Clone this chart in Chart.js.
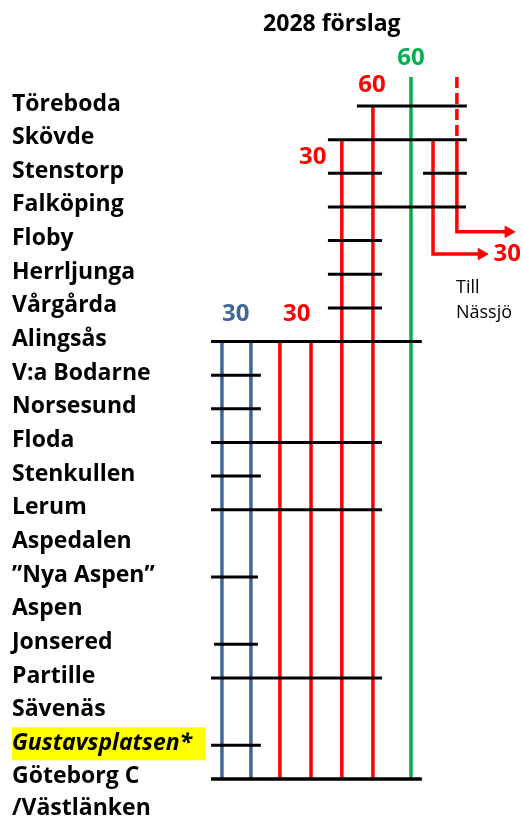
<!DOCTYPE html>
<html><head><meta charset="utf-8">
<script src="https://cdn.jsdelivr.net/npm/chart.js@4"></script>
<style>html,body{margin:0;padding:0;background:#fff}canvas{display:block}</style>
</head><body>
<canvas id="c" width="523" height="820"></canvas>
<script>
// ---------- DATA ----------
const stations = ['Töreboda','Skövde','Stenstorp','Falköping','Floby','Herrljunga','Vårgårda','Alingsås',
  'V:a Bodarne','Norsesund','Floda','Stenkullen','Lerum','Aspedalen','”Nya Aspen”','Aspen','Jonsered',
  'Partille','Sävenäs','Gustavsplatsen*','Göteborg C'];
const lastStationSecondLine = '/Västlänken';
const highlightedStation = 'Gustavsplatsen*';
const title = '2028 förslag';

// stopping bars: [station index, from track, to track]
const stationBars = [
  [0,4.47,8.11],[1,3.51,8.11],[2,3.51,5.30],[2,6.66,8.11],[3,3.51,8.08],[4,3.51,5.30],[5,3.51,5.30],
  [6,3.51,5.30],[7,-0.36,6.62],[8,-0.36,1.29],[9,-0.36,1.29],[10,-0.36,5.30],[11,-0.36,1.29],
  [12,-0.36,5.30],[14,-0.36,1.19],[16,-0.26,1.19],[17,-0.36,5.30],[19,-0.36,1.29],[20,-0.36,6.62]
];

// train services (vertical lines): track position, first and last station index
const lineService = ['blue','blue','red','red','red','red','green'];
const lineX       = [0, 0.96, 1.92, 2.95, 3.97, 5.0, 6.26];
const lineFrom    = [7, 7, 7, 7, 1, 0, -0.86];
const lineTo      = [20, 20, 20, 20, 20, 20, 20];

// branches towards Nässjö
const branchX    = [6.99, 7.78];
const branchFrom = [1, 1];
const branchTurn = [4.40, 3.74];
const branchTip  = [8.81, 9.70];
const dashedX = 7.78, dashedFrom = -0.86, dashedTo = 1;

// frequency labels (minutes)
const freqText    = ['60','60','30','30','30','30'];
const freqService = ['green','red','red','red','blue','red'];
const freqX       = [6.26, 4.97, 3.01, 9.45, 0.46, 2.48];
const freqY       = [-1.43, -0.62, 1.52, 4.40, 6.18, 6.18];

const noteText = ['Till','Nässjö'];
const noteX = [7.75, 7.75];
const noteY = [5.41, 6.15];

// ---------- STYLE ----------
const COLORS = {blue:'#40679A', red:'#FF0000', green:'#00B050', black:'#000000'};
const FONT = '"Open Sans", "Noto Sans", sans-serif';
const ARROW_R = 6.5;

const datasets = [];
lineX.forEach((x,i)=>{
  datasets.push({data:[{x, y:lineFrom[i]},{x, y:lineTo[i]}], borderColor:COLORS[lineService[i]],
    borderWidth:3.5, pointRadius:0, order:2, borderCapStyle:'butt'});
});
datasets.push({data:[{x:dashedX,y:dashedFrom},{x:dashedX,y:dashedTo}], borderColor:COLORS.red,
  borderWidth:3.5, borderDash:[11,5], pointRadius:0, order:2});
const arrowPts = [];
branchX.forEach((x,i)=>{
  const end = branchTip[i] - ARROW_R/30.2;
  datasets.push({data:[{x,y:branchFrom[i]},{x,y:branchTurn[i]},{x:end,y:branchTurn[i]}],
    borderColor:COLORS.red, borderWidth:3.5, pointRadius:0, order:2, borderJoinStyle:'miter'});
  arrowPts.push({x:end, y:branchTurn[i]});
});
datasets.push({type:'scatter', data:arrowPts, pointStyle:'triangle', rotation:90, pointRadius:ARROW_R,
  pointHoverRadius:ARROW_R, backgroundColor:COLORS.red, borderColor:COLORS.red, borderWidth:1, order:1});
stationBars.forEach(([s,a,b])=>{
  datasets.push({data:[{x:a,y:s},{x:b,y:s}], borderColor:COLORS.black,
    borderWidth: s===20 ? 3.5 : 3, pointRadius:0, order:0, borderCapStyle:'butt'});
});

const textPlugin = {
  id:'texts',
  afterDatasetsDraw(chart){
    const {ctx, scales:{x, y}} = chart;
    ctx.save();
    ctx.textBaseline = 'middle';
    // title
    ctx.fillStyle = '#000';
    ctx.font = 'bold 23px ' + FONT;
    ctx.textAlign = 'center';
    ctx.fillText(title, x.getPixelForValue(3.64), y.getPixelForValue(-2.41));
    // frequencies
    ctx.font = 'bold 24px ' + FONT;
    freqText.forEach((t,i)=>{
      ctx.fillStyle = COLORS[freqService[i]];
      ctx.fillText(t, x.getPixelForValue(freqX[i]), y.getPixelForValue(freqY[i]));
    });
    // notes
    ctx.fillStyle = '#000';
    ctx.font = '18px ' + FONT;
    ctx.textAlign = 'left';
    noteText.forEach((t,i)=> ctx.fillText(t, x.getPixelForValue(noteX[i]), y.getPixelForValue(noteY[i])));
    // station names
    stations.forEach((name,i)=>{
      const py = y.getPixelForValue(i) - 2;
      if (name === highlightedStation){
        ctx.font = 'italic bold 23px ' + FONT;
        const w = ctx.measureText(name).width;
        ctx.fillStyle = '#FFFF00';
        ctx.fillRect(12, py-16, Math.max(w+4, 193), 33);
        ctx.fillStyle = '#000';
      } else {
        ctx.font = 'bold 23px ' + FONT;
        ctx.fillStyle = '#000';
      }
      ctx.fillText(name, 12, py);
    });
    ctx.font = 'bold 23px ' + FONT;
    ctx.fillText(lastStationSecondLine, 12, y.getPixelForValue(stations.length-1) + 30);
    ctx.restore();
  }
};

new Chart(document.getElementById('c'), {
  type:'line',
  data:{datasets},
  options:{
    responsive:false, animation:false, events:[],
    layout:{padding:0, autoPadding:false},
    plugins:{legend:{display:false}, tooltip:{enabled:false}, title:{display:false}},
    scales:{
      x:{type:'linear', display:false, min:-7.35, max:9.97},
      y:{type:'linear', display:false, reverse:true, min:-3.15, max:21.22}
    }
  },
  plugins:[textPlugin]
});
</script>
</body></html>
